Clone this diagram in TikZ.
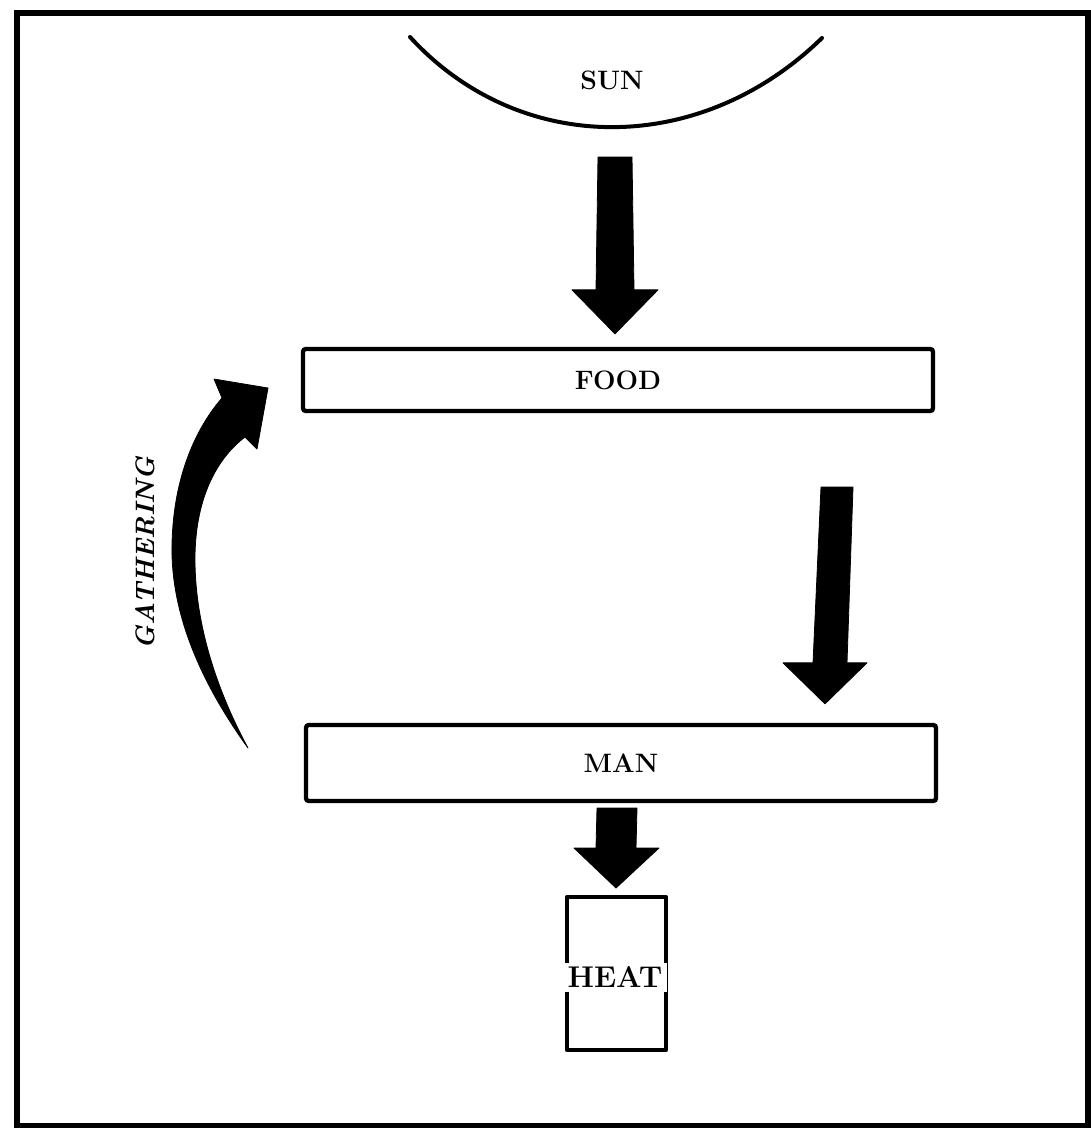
\documentclass[tikz,border=0pt]{standalone}
\usetikzlibrary{calc}
\begin{document}
\begin{tikzpicture}[x=0.75pt,y=-0.75pt,
  outline/.style={line width=3.2pt,line join=round},
  bar/.style={draw,line width=3.2pt,rounded corners=2pt,minimum width=630*0.75pt,minimum height=62*0.75pt,inner sep=0pt},
  lbl/.style={font=\fontsize{20}{22}\selectfont\bfseries},
  blk/.style={fill=black,draw=black,line width=0.6pt,line join=round}]
\useasboundingbox (0,0) rectangle (1090,1128);
% outer frame
\draw[line width=4pt] (17,13) rectangle (1088,1126);

% sun
\draw[line width=3pt,line cap=round] (410,37) .. controls (520,157) and (700,157) .. (822,38);
\node[lbl] (sun) at (612,80) {SUN};

% boxes
\node[bar,lbl] (food) at (618,380) {FOOD};
\node[bar,lbl,minimum height=76*0.75pt] (man) at (621,763) {MAN};
\draw[outline] (567,897) rectangle (666,1050);
\node[lbl,font=\fontsize{22.5}{24}\selectfont\bfseries,fill=white,minimum width=104*0.75pt,inner xsep=0pt,inner ysep=3pt] (heat) at (615,977) {HEAT};
\coordinate (heatbox) at (616,897);

% anchors of the arrows (tips)
\coordinate (a1s) at (615,157);
\coordinate (a1e) at ($(food.north)+(-3,-13)$);
\coordinate (a2s) at (837,487);
\coordinate (a2e) at ($(man.north)+(204,-19)$);
\coordinate (a3s) at (617,808);
\coordinate (a3e) at ($(heatbox)+(0,-9)$);

% sun -> food
\fill[blk] ($(a1s)+(-17,0)$) -- ($(a1s)+(17,0)$) -- ($(a1e)+(19,-44)$) -- ($(a1e)+(43,-44)$)
  -- (a1e) -- ($(a1e)+(-43,-44)$) -- ($(a1e)+(-19,-44)$) -- cycle;
% food -> man
\fill[blk] ($(a2s)+(-16,0)$) -- ($(a2s)+(16,0)$) -- ($(a2e)+(22,-41)$) -- ($(a2e)+(42,-41)$)
  -- (a2e) -- ($(a2e)+(-42,-41)$) -- ($(a2e)+(-12,-41)$) -- cycle;
% man -> heat
\fill[blk] ($(a3s)+(-20,0)$) -- ($(a3s)+(20,0)$) -- ($(a3e)+(20,-40)$) -- ($(a3e)+(43,-40)$)
  -- (a3e) -- ($(a3e)+(-42,-40)$) -- ($(a3e)+(-20,-40)$) -- cycle;

% gathering: curved arrow from man up to food
\coordinate (gtail) at (248,748);
\coordinate (gtip) at (268,388);
\fill[blk] (222,398) .. controls (190,435) and (171,490) .. (172,555)
  .. controls (174,630) and (212,698) .. (gtail)
  .. controls (222,700) and (194,630) .. (195,555)
  .. controls (196,500) and (215,460) .. (245,437)
  -- (257,449) -- (gtip) -- (214,379) -- cycle;
\node[lbl,font=\fontsize{20}{22}\selectfont\bfseries\itshape,rotate=90] (gath) at (145,553) {GATHERING};
\end{tikzpicture}
\end{document}
